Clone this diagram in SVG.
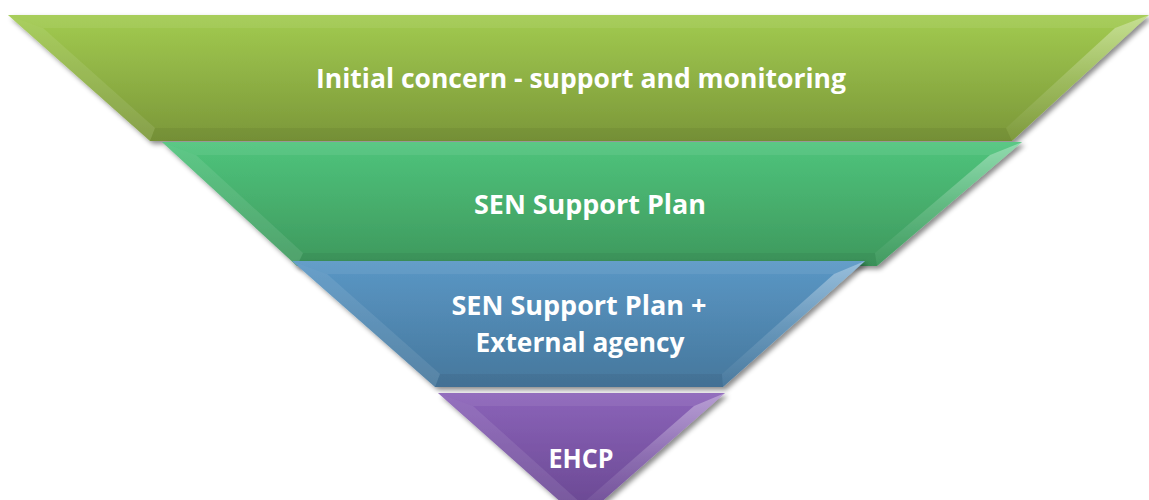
<svg xmlns="http://www.w3.org/2000/svg" width="1149" height="500" viewBox="0 0 1149 500">
<style>
  .lbl{font-family:"Open Sans",Lato,"Liberation Sans",sans-serif;font-weight:bold;font-size:26px;fill:#ffffff;text-anchor:middle}
  .hiL{fill:#ffffff;fill-opacity:0.09}
  .hiT{fill:#ffffff;fill-opacity:0.07}
  .shB{fill:#000000;fill-opacity:0.05}
  .hiR{fill:url(#gR)}
</style>
<defs>
  <filter id="sh" x="-5%" y="-10%" width="115%" height="130%">
    <feDropShadow dx="3" dy="3" stdDeviation="2.5" flood-color="#000000" flood-opacity="0.45"/>
  </filter>
  <linearGradient id="g1" x1="0" y1="0" x2="0" y2="1">
    <stop offset="0" stop-color="#a2cb50"/><stop offset="1" stop-color="#7b9739"/>
  </linearGradient>
  <linearGradient id="g2" x1="0" y1="0" x2="0" y2="1">
    <stop offset="0" stop-color="#4fc47c"/><stop offset="1" stop-color="#3e985d"/>
  </linearGradient>
  <linearGradient id="g3" x1="0" y1="0" x2="0" y2="1">
    <stop offset="0" stop-color="#5a97c5"/><stop offset="1" stop-color="#46779c"/>
  </linearGradient>
  <linearGradient id="g4" x1="0" y1="0" x2="0" y2="1">
    <stop offset="0" stop-color="#8b63b9"/><stop offset="1" stop-color="#67468f"/>
  </linearGradient>
  <linearGradient id="gR" x1="0" y1="0" x2="0" y2="1">
    <stop offset="0" stop-color="#ffffff" stop-opacity="0.38"/><stop offset="0.5" stop-color="#ffffff" stop-opacity="0.15"/><stop offset="1" stop-color="#ffffff" stop-opacity="0.02"/>
  </linearGradient>
</defs>

<g id="layer1">
  <polygon points="8,15 1149,15 1012,141 150,141" fill="url(#g1)" filter="url(#sh)"/>
  <polygon class="hiT" points="8,15 1149,15 1115,28 43,28"/>
  <polygon class="hiL" points="8,15 43,28 155,128 150,141"/>
  <polygon class="hiR" points="1149,15 1012,141 1006,128 1115,28"/>
  <polygon class="shB" points="155,128 1006,128 1012,141 150,141"/>
  <text class="lbl" x="581" y="88" textLength="530" lengthAdjust="spacingAndGlyphs">Initial concern - support and monitoring</text>
</g>

<g id="layer2">
  <polygon points="162,142 1022,142 877,266 297,266" fill="url(#g2)" filter="url(#sh)"/>
  <polygon class="hiT" points="162,142 1022,142 990,155 196,155"/>
  <polygon class="hiL" points="162,142 196,155 303,253 297,266"/>
  <polygon class="hiR" points="1022,142 877,266 875,253 990,155"/>
  <polygon class="shB" points="303,253 875,253 877,266 297,266"/>
  <text class="lbl" x="590" y="214" textLength="232" lengthAdjust="spacingAndGlyphs">SEN Support Plan</text>
</g>

<g id="layer3">
  <polygon points="292,261 865,261 723,387 435,387" fill="url(#g3)" filter="url(#sh)"/>
  <polygon class="hiT" points="292,261 865,261 834,274 327,274"/>
  <polygon class="hiL" points="292,261 327,274 440,374 435,387"/>
  <polygon class="hiR" points="865,261 723,387 722,374 834,274"/>
  <polygon class="shB" points="440,374 722,374 723,387 435,387"/>
  <text class="lbl" x="579" y="315" textLength="255" lengthAdjust="spacingAndGlyphs">SEN Support Plan +</text>
  <text class="lbl" x="580" y="352" textLength="209" lengthAdjust="spacingAndGlyphs">External agency</text>
</g>

<g id="layer4">
  <polygon points="438,393 725,393 581,520" fill="url(#g4)" filter="url(#sh)"/>
  <polygon class="hiT" points="438,393 725,393 694,406 473,406"/>
  <polygon class="hiL" points="438,393 473,406 582,504 581,520"/>
  <polygon class="hiR" points="725,393 581,520 582,504 694,406"/>
  <text class="lbl" x="581" y="468" textLength="65" lengthAdjust="spacingAndGlyphs">EHCP</text>
</g>

<g id="connectors"></g>
</svg>
